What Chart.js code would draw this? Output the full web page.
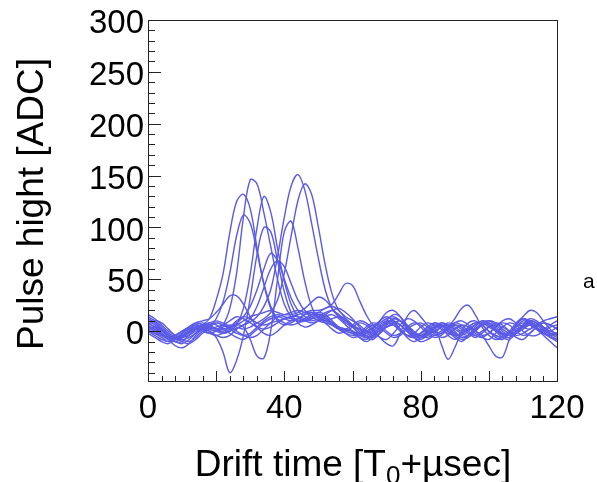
<!DOCTYPE html>
<html>
<head>
<meta charset="utf-8">
<title>Pulse hight vs drift time</title>
<style>
  body { margin: 0; background: #fff; }
  #wrap { position: relative; width: 597px; height: 482px; }
</style>
</head>
<body>
<div id="wrap"><canvas id="chart"></canvas></div>
<script src="https://cdn.jsdelivr.net/npm/chart.js@4/dist/chart.umd.min.js"></script>
<script>
// drift time samples [T0 + usec]
const times = [0, 2, 4, 6, 8, 10, 12, 14, 16, 18, 20, 22, 24, 26, 28, 30, 32, 34, 36, 38,
  40, 42, 44, 46, 48, 50, 52, 54, 56, 58, 60, 62, 64, 66, 68, 70, 72, 74, 76, 78,
  80, 82, 84, 86, 88, 90, 92, 94, 96, 98, 100, 102, 104, 106, 108, 110, 112, 114, 116, 118, 120];

// pulse height per channel [ADC]
const ch01 = [10, 6, 1, -4, -7, -5, -1, 3, 6, 4, 2, 6, 22, 56, 110, 146, 142, 114, 82, 50, 26, 14, 9, 10, 14, 16, 12, 8, 4, 2, 0, -4, -6, -2, 4, 8, 6, 0, -4, -2, 4, 8, 6, 2, -2, -4, -2, 2, 6, 8, 4, 0, -3, -2, 2, 5, 6, 3, 0, -2, -3];
const ch02 = [5, 2, -3, -8, -10, -6, -2, 2, 4, 2, 0, -2, 0, 3, 6, 9, 14, 24, 40, 72, 110, 140, 151, 136, 104, 70, 40, 22, 14, 10, 6, 2, -4, -6, -2, 6, 12, 10, 4, -2, -4, -2, 4, 8, 6, 0, -6, -4, 2, 8, 10, 6, 0, -4, -2, 4, 10, 8, 2, -2, -4];
const ch03 = [8, 4, 0, -6, -10, -10, -4, 2, 6, 12, 30, 55, 95, 125, 132, 118, 80, 45, 22, 10, 6, 8, 12, 16, 18, 14, 8, 2, -2, 0, 4, 8, 6, 0, -6, -8, -2, 6, 12, 10, 4, -2, -6, -4, 2, 6, 4, -2, -6, -2, 4, 8, 6, 0, -6, -8, -2, 4, 8, 6, 2];
const ch04 = [12, 8, 2, -4, -8, -6, 0, 4, 2, 4, 12, 28, 56, 92, 112, 104, 76, 46, 24, 12, 8, 6, 8, 12, 16, 14, 10, 6, 2, 0, -2, -4, -2, 4, 10, 14, 10, 2, -4, -6, -2, 4, 8, 6, 0, -6, -10, -4, 4, 10, 6, 0, -6, -8, -2, 6, 12, 10, 4, 0, -2];
const ch05 = [4, 0, -4, -8, -6, -2, 2, 6, 8, 6, 2, -2, 0, 6, 22, 55, 100, 130, 115, 80, 48, 26, 14, 10, 12, 16, 14, 8, 2, -2, -4, -2, 4, 8, 6, 0, -4, -2, 4, 8, 6, 0, -4, -2, 4, 8, 6, 0, -4, -6, -2, 4, 8, 6, 0, -4, -2, 4, 8, 6, 2];
const ch06 = [6, 2, -2, -6, -4, 0, 4, 6, 4, 0, -6, -20, -40, -28, -4, 32, 74, 100, 96, 68, 38, 18, 8, 4, 6, 10, 12, 8, 2, -2, -6, -4, 2, 6, 4, -2, -6, -4, 2, 6, 8, 4, -2, -6, -4, 2, 6, 4, -2, -6, -8, -2, 4, 8, 6, 0, -4, -4, 0, 4, 6];
const ch07 = [2, -2, -6, -10, -8, -2, 2, 4, 2, -2, -4, -2, 2, 6, 4, -8, -24, -26, 0, 50, 96, 106, 80, 48, 24, 12, 10, 12, 14, 12, 6, 0, -6, -8, -2, 6, 10, 6, 0, -4, -2, 2, 6, 4, -4, -8, -4, 4, 8, 6, 0, -4, -6, -2, 4, 10, 8, 2, -2, -4, -2];
const ch08 = [0, -4, -8, -10, -8, -4, 0, 2, 0, -2, 0, 4, 6, 4, 2, 4, 8, 12, 18, 30, 56, 92, 126, 142, 132, 100, 64, 36, 20, 14, 10, 6, 0, -4, -2, 4, 8, 6, 0, -6, -8, -4, 2, 6, 4, -2, -6, -4, 2, 6, 6, 2, -2, -4, 0, 6, 10, 8, 2, -4, -8];
const ch09 = [-2, -6, -10, -12, -8, -2, 4, 8, 6, 2, 0, 2, 4, 8, 14, 24, 40, 60, 75, 68, 50, 32, 20, 14, 12, 14, 18, 20, 16, 10, 4, -2, -6, -4, 2, 8, 10, 6, 0, -4, -6, -2, 4, 6, 2, -4, -8, -6, 0, 6, 8, 4, -2, -4, 0, 4, 6, 2, -2, -6, -10];
const ch10 = [6, 10, 8, 2, -4, -6, -4, 0, 2, 0, -4, -6, -4, 2, 6, 12, 24, 42, 60, 68, 62, 46, 30, 20, 16, 18, 22, 24, 20, 12, 4, -2, -4, 0, 6, 10, 8, 2, -4, -6, -2, 4, 8, 6, 0, -4, -2, 4, 8, 6, 0, -6, -8, -2, 6, 12, 10, 4, -2, -4, -2];
const ch11 = [4, 0, -4, -6, -4, 0, 4, 8, 10, 12, 18, 26, 34, 34, 26, 14, 4, -2, -4, 0, 6, 10, 12, 10, 8, 10, 14, 16, 12, 6, 0, -6, -8, -4, 2, 8, 12, 10, 4, -2, -4, 0, 4, 6, 2, -2, -4, 0, 6, 10, 8, 2, -4, -6, -2, 4, 8, 6, 0, -6, -8];
const ch12 = [14, 10, 4, -2, -6, -8, -6, -2, 2, 4, 2, 0, 4, 10, 14, 12, 8, 6, 8, 10, 12, 14, 16, 18, 20, 20, 22, 26, 36, 46, 44, 30, 16, 6, 2, 4, 8, 10, 6, 0, -4, -6, -2, 4, 8, 6, 2, -2, -4, 0, 4, 6, 4, 0, -4, -2, 2, 6, 4, 0, 4];
const ch13 = [16, 12, 6, 0, -4, -8, -10, -6, 0, 4, 8, 6, 4, 6, 10, 14, 16, 18, 20, 18, 16, 16, 18, 22, 28, 33, 30, 22, 14, 8, 4, 2, 0, -2, 0, 4, 6, 2, -6, -10, -6, 0, 4, -12, -27, -16, 0, 8, 10, 6, 0, -4, -6, -2, 4, 8, 6, 2, 2, 6, 10];
const ch14 = [0, -2, -4, -6, -10, -12, -8, -2, 4, 8, 10, 8, 4, 0, -4, -6, -4, 2, 8, 14, 16, 18, 20, 18, 14, 10, 8, 6, 4, 2, 0, -2, 0, 4, 8, 12, 14, 10, 2, -6, -10, -8, -4, 0, 4, 12, 22, 25, 16, 4, -4, -8, -6, 0, 8, 14, 20, 18, 10, 2, -4];
const ch15 = [8, 4, -2, -8, -14, -16, -12, -4, 2, 6, 8, 6, 2, -2, -4, -2, 4, 10, 14, 16, 14, 12, 10, 12, 16, 18, 16, 10, 4, 0, -2, -6, -10, -6, 2, 10, 16, 14, 6, -2, -6, -4, 0, 4, 6, 4, 0, 2, 0, -4, -14, -24, -25, -8, 6, 12, 8, 2, -4, -10, -16];
const ch16 = [12, 8, 2, -4, -6, -4, 0, 4, 6, 8, 6, 2, -2, -6, -8, -4, 2, 8, 12, 14, 12, 10, 12, 16, 18, 16, 12, 6, 2, 2, 6, 10, 8, 2, -6, -12, -14, -2, 14, 20, 14, 6, 0, -2, 2, 8, 10, 6, 0, -4, -2, 4, 10, 12, 8, 4, 2, 6, 10, 12, 14];
const ch17 = [2, 4, 2, -2, -6, -10, -12, -8, -2, 2, 4, 6, 10, 14, 12, 8, 4, 2, 4, 8, 12, 14, 14, 12, 10, 12, 16, 20, 22, 18, 12, 4, -2, 2, 10, 18, 20, 14, 4, -4, -6, -2, 4, 8, 6, 2, -2, -4, 0, 6, 10, 8, 2, -2, -2, 2, 6, 8, 4, -2, -6];

const channels = [ch01, ch02, ch03, ch04, ch05, ch06, ch07, ch08, ch09, ch10, ch11, ch12, ch13, ch14, ch15, ch16, ch17];

const xTickLabels = [0, 40, 80, 120];
const yTickLabels = [0, 50, 100, 150, 200, 250, 300];

const lineColour = '#5a5ae6';
const fontFamily = "'Liberation Sans', Arial, Helvetica, sans-serif";

// ROOT style frame: full box, ticks pointing inwards, axis titles and panel letter
const rootFrame = {
  id: 'rootFrame',
  afterDatasetsDraw(chart) {
    const { ctx, chartArea: a, scales: { x, y } } = chart;
    ctx.save();
    ctx.strokeStyle = '#222';
    ctx.lineWidth = 1;
    ctx.strokeRect(a.left + 0.5, a.top + 0.5, a.right - a.left, a.bottom - a.top);
    ctx.beginPath();
    for (let v = -40; v <= 300; v += 10) {
      const py = Math.round(y.getPixelForValue(v)) + 0.5;
      const len = v % 50 === 0 ? 13 : 7;
      ctx.moveTo(a.left, py);
      ctx.lineTo(a.left + len, py);
    }
    for (let v = 0; v <= 120; v += 4) {
      const px = Math.round(x.getPixelForValue(v)) + 0.5;
      const len = v % 20 === 0 ? 10 : 5;
      ctx.moveTo(px, a.bottom);
      ctx.lineTo(px, a.bottom - len);
    }
    ctx.stroke();
    ctx.restore();
  },
  afterDraw(chart) {
    const { ctx } = chart;
    ctx.save();
    ctx.fillStyle = '#000';
    ctx.textBaseline = 'alphabetic';

    // y title
    ctx.font = '37px ' + fontFamily;
    ctx.save();
    ctx.translate(43, 204);
    ctx.rotate(-Math.PI / 2);
    ctx.textAlign = 'center';
    ctx.fillText('Pulse hight [ADC]', 0, 0);
    ctx.restore();

    // x title with subscript
    const part1 = 'Drift time [T', sub = '0', part2 = '+\u00b5sec]';
    ctx.textAlign = 'left';
    const w1 = ctx.measureText(part1).width;
    const w3 = ctx.measureText(part2).width;
    ctx.font = '26px ' + fontFamily;
    const w2 = ctx.measureText(sub).width;
    const start = 353 - (w1 + w2 + w3) / 2;
    const base = 476;
    ctx.font = '37px ' + fontFamily;
    ctx.fillText(part1, start, base);
    ctx.font = '26px ' + fontFamily;
    ctx.fillText(sub, start + w1, base + 8);
    ctx.font = '37px ' + fontFamily;
    ctx.fillText(part2, start + w1 + w2, base);

    // panel letter
    ctx.font = '21px ' + fontFamily;
    ctx.fillText('a', 583, 288);
    ctx.restore();
  }
};

new Chart(document.getElementById('chart'), {
  type: 'line',
  data: {
    datasets: channels.map(c => ({
      data: c.map((v, i) => ({ x: times[i], y: v })),
      borderColor: lineColour,
      borderWidth: 1.4,
      pointRadius: 0,
      tension: 0.35,
      fill: false
    }))
  },
  options: {
    responsive: true,
    maintainAspectRatio: false,
    animation: false,
    events: [],
    layout: { padding: { top: 20, right: 40, left: 0, bottom: 0 } },
    plugins: { legend: { display: false }, tooltip: { enabled: false } },
    scales: {
      x: {
        type: 'linear',
        min: 0,
        max: 120,
        grid: { display: false, drawTicks: false },
        border: { display: false },
        afterBuildTicks: s => { s.ticks = xTickLabels.map(v => ({ value: v })); },
        afterFit: s => { s.height = 101; },
        ticks: {
          color: '#000',
          font: { family: fontFamily, size: 33 },
          padding: 8,
          maxRotation: 0,
          autoSkip: false
        }
      },
      y: {
        min: -48,
        max: 300,
        grid: { display: false, drawTicks: false },
        border: { display: false },
        afterBuildTicks: s => { s.ticks = yTickLabels.map(v => ({ value: v })); },
        afterFit: s => { s.width = 148; },
        ticks: {
          color: '#000',
          font: { family: fontFamily, size: 33, lineHeight: 0.8 },
          padding: 4,
          labelOffset: 4,
          autoSkip: false
        }
      }
    }
  },
  plugins: [rootFrame]
});
</script>
</body>
</html>
